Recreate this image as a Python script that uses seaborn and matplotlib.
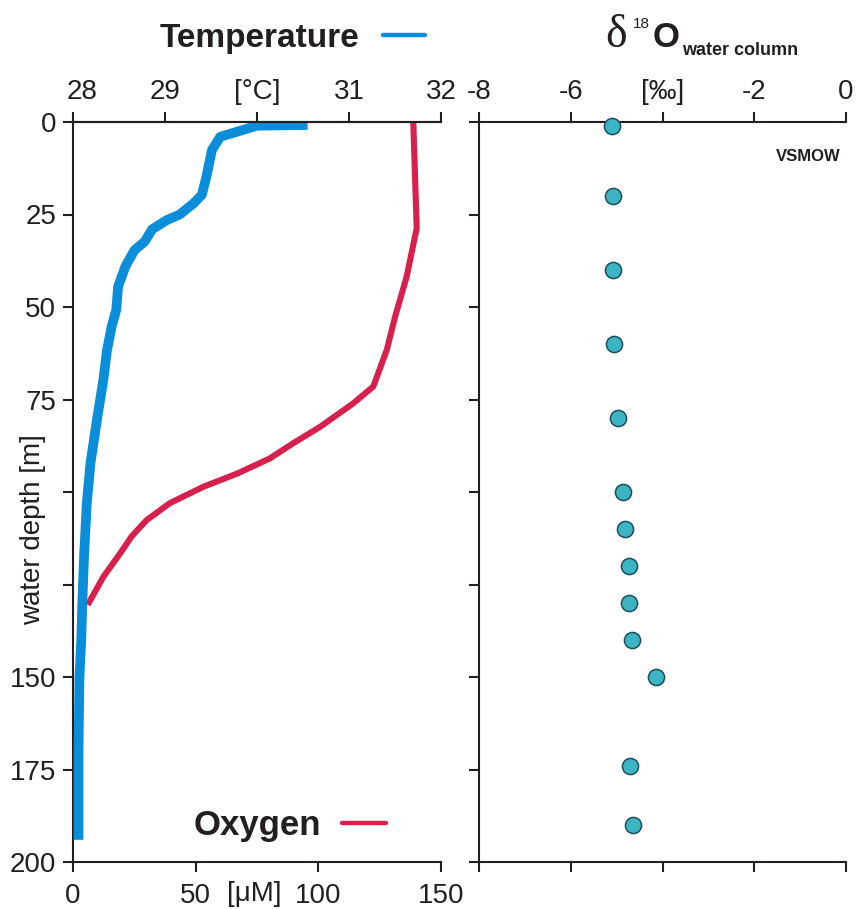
import matplotlib
matplotlib.use("Agg")
import matplotlib.pyplot as plt
from matplotlib.lines import Line2D
from matplotlib.transforms import ScaledTranslation
import seaborn as sns
import pandas as pd

# Temperature profile (°C vs water depth in m)
temp_depth = [0.8, 1.0, 4.0, 7.6, 14.8, 19.7, 22.0, 25.0, 26.5, 29.0, 32.3, 34.6,
              39.0, 44.5, 50.8, 55.3, 61.6, 69.7, 80.5, 92.2, 103.0, 117.5, 131.0,
              140.0, 150.0, 170.0, 194.0]
temp_c = [30.55, 30.0, 29.6, 29.51, 29.45, 29.40, 29.31, 29.16, 29.02, 28.86, 28.78,
          28.67, 28.57, 28.49, 28.47, 28.42, 28.37, 28.33, 28.26, 28.19, 28.15, 28.12,
          28.10, 28.09, 28.07, 28.06, 28.06]

# Dissolved oxygen profile (µM vs water depth in m)
oxy_depth = [0.0, 28.7, 41.8, 52.6, 61.6, 71.5, 76.0, 82.4, 86.8, 90.9, 95.0, 98.6,
             103.0, 107.6, 112.0, 116.6, 122.9, 130.5]
oxy_um = [138.7, 140.1, 136.0, 131.3, 127.9, 122.4, 114.3, 100.7, 89.8, 80.3, 67.0,
          53.1, 39.5, 30.0, 23.9, 19.2, 12.4, 6.0]

# Water-column oxygen isotopes (‰ VSMOW)
d18o_depth = [1, 20, 40, 60, 80, 100, 110, 120, 130, 140, 150, 174, 190]
d18o_vals = [-5.09, -5.08, -5.07, -5.05, -4.96, -4.87, -4.82, -4.73, -4.73, -4.66,
             -4.15, -4.70, -4.64]

# Axis ticks and labels
depth_ticks = [0, 25, 50, 75, 100, 125, 150, 175, 200]
depth_labels = ["0", "25", "50", "75", "", "", "150", "175", "200"]
temp_ticks = [28, 29, 30, 31, 32]
temp_labels = ["28", "29", "[°C]", "31", "32"]
oxy_ticks = [0, 50, 100, 150]
oxy_labels = ["0", "50", "100", "150"]
iso_ticks = [-8, -6, -4, -2, 0]
iso_labels = ["-8", "-6", "[‰]", "-2", "0"]

BLUE = "#0A8ED9"
RED = "#D8204C"
TEAL = "#3BB4C4"
EDGE = "#1E4D5C"
INK = "#231F20"

sns.set_style("ticks")
plt.rcParams["font.family"] = ["Liberation Sans", "DejaVu Sans"]
plt.rcParams["text.color"] = INK
plt.rcParams["axes.edgecolor"] = INK
plt.rcParams["xtick.color"] = INK
plt.rcParams["ytick.color"] = INK

W, H = 859, 909
fig = plt.figure(figsize=(W / 100, H / 100), dpi=100)


def fx(px):
    return px / W


def fy(py):
    return 1 - py / H


ax1 = fig.add_axes([fx(73), fy(862), (441 - 73) / W, (862 - 122) / H])
ax2 = fig.add_axes([fx(479), fy(862), (846 - 479) / W, (862 - 122) / H])

temp_df = pd.DataFrame({"depth": temp_depth, "temp": temp_c})
oxy_df = pd.DataFrame({"depth": oxy_depth, "oxy": oxy_um})
iso_df = pd.DataFrame({"depth": d18o_depth, "d18o": d18o_vals})

SPINE_W = 1.5
TICK_FS = 20

# ---- left panel: oxygen on the bottom axis, temperature on the top axis ----
sns.lineplot(data=oxy_df, x="oxy", y="depth", sort=False, estimator=None,
             color=RED, linewidth=4.4, ax=ax1)
ax1.lines[-1].set_solid_capstyle("butt")
ax1.set_xlim(0, 150)
ax1.set_ylim(200, 0)
ax1.set_xticks(oxy_ticks)
ax1.set_xticklabels(oxy_labels)
ax1.set_yticks(depth_ticks)
ax1.set_yticklabels(depth_labels)
ax1.set_xlabel("")
ax1.set_ylabel("")
ax1.tick_params(axis="x", bottom=True, top=False, labelbottom=True, labeltop=False,
                direction="out", length=7, width=SPINE_W, pad=8, labelsize=TICK_FS)
ax1.tick_params(axis="y", left=True, right=False, direction="out", length=7,
                width=SPINE_W, pad=5, labelsize=TICK_FS)
for side in ["left", "bottom", "top"]:
    ax1.spines[side].set_linewidth(SPINE_W)
ax1.spines["right"].set_visible(False)

ax1t = ax1.twiny()
sns.lineplot(data=temp_df, x="temp", y="depth", sort=False, estimator=None,
             color=BLUE, linewidth=7, ax=ax1t)
ax1t.lines[-1].set_solid_capstyle("butt")
ax1t.lines[-1].set_solid_joinstyle("round")
ax1t.set_xlim(28, 32)
ax1t.set_ylim(200, 0)
ax1t.set_xticks(temp_ticks)
ax1t.set_xticklabels(temp_labels)
ax1t.set_xlabel("")
ax1t.set_ylabel("")
ax1t.tick_params(axis="x", top=True, bottom=False, labeltop=True, labelbottom=False,
                 direction="out", length=7, width=SPINE_W, pad=5, labelsize=TICK_FS)
ax1t.spines["right"].set_visible(False)
ax1t.spines["bottom"].set_visible(False)
ax1t.spines["left"].set_visible(False)
ax1t.spines["top"].set_linewidth(SPINE_W)

# nudge the "28" label right so it clears the depth "0"
first = ax1t.get_xticklabels()[0]
first.set_transform(first.get_transform() + ScaledTranslation(9 / 100, 0, fig.dpi_scale_trans))

# unit label between the 50 and 100 oxygen ticks
ax1.text(74, -0.026, "[μM]", transform=ax1.get_xaxis_transform(), ha="center",
         va="top", fontsize=TICK_FS)

# depth axis title
fig.text(fx(33), fy(530), "water depth [m]", rotation=90, ha="center", va="center",
         fontsize=20)

# ---- right panel: δ18O of the water column ----
sns.scatterplot(data=iso_df, x="d18o", y="depth", color=TEAL, edgecolor=EDGE,
                linewidth=1.1, s=135, ax=ax2, zorder=3, clip_on=False)
ax2.set_xlim(-8, 0)
ax2.set_ylim(200, 0)
ax2.set_xticks(iso_ticks)
ax2.set_xticklabels(iso_labels)
ax2.set_yticks(depth_ticks)
ax2.set_yticklabels([])
ax2.set_xlabel("")
ax2.set_ylabel("")
ax2.tick_params(axis="x", top=True, bottom=True, labeltop=True, labelbottom=False,
                direction="out", length=7, width=SPINE_W, pad=5, labelsize=TICK_FS)
ax2.tick_params(axis="y", left=True, right=False, labelleft=False, direction="out",
                length=7, width=SPINE_W)
for side in ["left", "bottom", "top"]:
    ax2.spines[side].set_linewidth(SPINE_W)
ax2.spines["right"].set_visible(False)

ax2.text(0.985, 0.953, "VSMOW", transform=ax2.transAxes, ha="right", va="center",
         fontsize=12, fontweight="bold")

# ---- headings with their line keys ----
fig.text(fx(259), fy(47), "Temperature", ha="center", va="baseline", fontsize=24,
         fontweight="bold")
fig.add_artist(Line2D([fx(383), fx(425)], [fy(35), fy(35)], color=BLUE, linewidth=3.2,
                      transform=fig.transFigure))

fig.text(fx(257), fy(835), "Oxygen", ha="center", va="baseline", fontsize=25,
         fontweight="bold")
fig.add_artist(Line2D([fx(342), fx(386)], [fy(823), fy(823)], color=RED, linewidth=3.2,
                      transform=fig.transFigure))

fig.text(fx(605), fy(47), "δ", ha="left", va="baseline", fontsize=33,
         family=["Liberation Serif", "DejaVu Serif"])
fig.text(fx(633), fy(28), "18", ha="left", va="baseline", fontsize=11)
fig.text(fx(653), fy(47), "O", ha="left", va="baseline", fontsize=25, fontweight="bold")
fig.text(fx(682), fy(55), "water column", ha="left", va="baseline", fontsize=13,
         fontweight="bold")

fig.savefig("out.png", dpi=100)
